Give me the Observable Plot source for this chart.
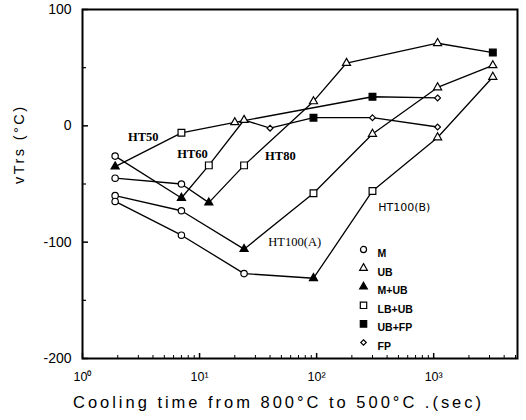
<!DOCTYPE html>
<html>
<head>
<meta charset="utf-8">
<script src="https://cdn.jsdelivr.net/npm/d3@7"></script>
<script src="https://cdn.jsdelivr.net/npm/@observablehq/plot@0.6"></script>
<style>
  html, body { margin: 0; padding: 0; background: #fff; }
</style>
</head>
<body>
<div id="chart"></div>
<script>
// ---- data ----
const structures = ["M", "UB", "M+UB", "LB+UB", "UB+FP", "FP"];

const ht50Time = [1.9, 7, 20, 300, 1080];
const ht50Vtrs = [-35, -6, 3, 25, 24];
const ht50Struct = ["M+UB", "LB+UB", "UB", "UB+FP", "FP"];

const ht60Time = [1.9, 7, 12, 24, 40, 94, 300, 1080];
const ht60Vtrs = [-26, -62, -34, 5, -2, 7, 7, -1];
const ht60Struct = ["M", "M+UB", "LB+UB", "UB", "FP", "UB+FP", "FP", "FP"];

const ht80Time = [1.9, 7, 12, 24, 94, 180, 1080, 3200];
const ht80Vtrs = [-45, -50, -66, -34, 21, 54, 71, 63];
const ht80Struct = ["M", "M", "M+UB", "LB+UB", "UB", "UB", "UB", "UB+FP"];

const ht100aTime = [1.9, 7, 24, 94, 300, 1080, 3200];
const ht100aVtrs = [-60, -73, -106, -58, -7, 33, 52];
const ht100aStruct = ["M", "M", "M+UB", "LB+UB", "UB", "UB", "UB"];

const ht100bTime = [1.9, 7, 24, 94, 300, 1080, 3200];
const ht100bVtrs = [-65, -94, -127, -131, -56, -10, 42];
const ht100bStruct = ["M", "M", "M", "M+UB", "LB+UB", "UB", "UB"];

const steelNames = ["HT50", "HT60", "HT80", "HT100(A)", "HT100(B)"];
const labelTime = [3.3, 8.7, 49, 65, 560];
const labelVtrs = [-10, -24, -26, -100, -70];

const yTicks = [-200, -100, 0, 100];
const yMinorTicks = [-150, -50, 50];
const xTicks = [1, 10, 100, 1000];
const xTickLabels = ["10\u2070", "10\u00b9", "10\u00b2", "10\u00b3"];
const xMinorTicks = [2, 3, 4, 5, 6, 7, 8, 9, 20, 30, 40, 50, 60, 70, 80, 90,
  200, 300, 400, 500, 600, 700, 800, 900, 2000, 3000, 4000, 5000];

const xTitle = "Cooling time from 800\u00b0C to 500\u00b0C .(sec)";
const yTitle = "vTrs (\u00b0C)";

// ---- build table ----
const series = [
  {name: steelNames[0], time: ht50Time, vtrs: ht50Vtrs, struct: ht50Struct},
  {name: steelNames[1], time: ht60Time, vtrs: ht60Vtrs, struct: ht60Struct},
  {name: steelNames[2], time: ht80Time, vtrs: ht80Vtrs, struct: ht80Struct},
  {name: steelNames[3], time: ht100aTime, vtrs: ht100aVtrs, struct: ht100aStruct},
  {name: steelNames[4], time: ht100bTime, vtrs: ht100bVtrs, struct: ht100bStruct}
];
const points = series.flatMap(s => s.time.map((t, i) => ({
  steel: s.name, time: t, vtrs: s.vtrs[i], structure: s.struct[i]
})));
const labels = steelNames.map((n, i) => ({name: n, time: labelTime[i], vtrs: labelVtrs[i]}));

// marker style per structure: [symbol, filled, r]
const markerStyle = {
  "M": ["circle", false, 3.2],
  "UB": ["triangle", false, 3.0],
  "M+UB": ["triangle", true, 3.0],
  "LB+UB": ["square", false, 3.8],
  "UB+FP": ["square", true, 3.8],
  "FP": ["diamond2", false, 2.6]
};

const dotMarks = structures.map(st => Plot.dot(points.filter(d => d.structure === st), {
  x: "time", y: "vtrs",
  symbol: markerStyle[st][0],
  r: markerStyle[st][2],
  fill: markerStyle[st][1] ? "black" : "white",
  stroke: "black", strokeWidth: 1.2
}));

const legendMarks = structures.flatMap((st, i) => [
  Plot.dot([st], {
    frameAnchor: "top-left", dx: 281, dy: 240 + i * 18.6,
    symbol: markerStyle[st][0], r: markerStyle[st][2] * 0.95,
    fill: markerStyle[st][1] ? "black" : "white",
    stroke: "black", strokeWidth: 1.2
  }),
  Plot.text([st], {
    frameAnchor: "top-left", dx: 295, dy: 240 + i * 18.6,
    text: d => d, textAnchor: "start",
    fontSize: 10.5, fontWeight: "bold",
    fontFamily: "Liberation Sans, Arial, sans-serif"
  })
]);

const chart = Plot.plot({
  width: 526,
  height: 420,
  marginLeft: 82,
  marginRight: 9,
  marginTop: 9,
  marginBottom: 62,
  x: {type: "log", domain: [1, 5200], label: null},
  y: {domain: [-200, 100], label: null},
  style: {
    fontFamily: "Liberation Sans, Arial, sans-serif",
    fontSize: "13px",
    background: "white",
    color: "black",
    overflow: "visible"
  },
  marks: [
    // axes
    Plot.axisY({ticks: yTicks, tickSize: 0, tickPadding: 11, tickFormat: d => String(d), fontSize: 14}),
    Plot.axisY({ticks: yTicks, tickSize: 6, dx: 6, fill: "none", strokeWidth: 1.5}),
    Plot.axisY({ticks: yMinorTicks, tickSize: 4, dx: 4, fill: "none", strokeWidth: 1.2}),
    Plot.axisX({ticks: xTicks, tickSize: 0, tickPadding: 14, fontSize: 12.5,
      tickFormat: d => xTickLabels[xTicks.indexOf(d)]}),
    Plot.axisX({ticks: xTicks, tickSize: 5, dy: -5, fill: "none", strokeWidth: 1.5}),
    Plot.axisX({ticks: xMinorTicks, tickSize: 3, dy: -3, fill: "none", strokeWidth: 1}),
    // data lines
    Plot.line(points, {x: "time", y: "vtrs", z: "steel", stroke: "black", strokeWidth: 1.3}),
    ...dotMarks,
    // curve labels
    Plot.text(labels.slice(0, 3), {x: "time", y: "vtrs", text: "name",
      fontFamily: "Liberation Serif, Times New Roman, serif", fontWeight: "bold", fontSize: 12.5}),
    Plot.text(labels.slice(3, 4), {x: "time", y: "vtrs", text: "name",
      fontFamily: "Liberation Serif, Times New Roman, serif", fontSize: 12.5}),
    Plot.text(labels.slice(4, 5), {x: "time", y: "vtrs", text: "name",
      fontFamily: "DejaVu Sans, sans-serif", fontSize: 11}),
    // legend
    ...legendMarks,
    // titles
    Plot.text([yTitle], {frameAnchor: "left", dx: -63, rotate: -90, text: d => d, fontSize: 14.5}),
    Plot.text([xTitle], {frameAnchor: "bottom", dx: -23, dy: 49, text: d => d, fontSize: 16.5}),
    // frame
    Plot.frame({stroke: "black", strokeWidth: 2})
  ]
});

// stretch the axis titles to the widths seen in the reference
d3.select(chart).selectAll("text").each(function() {
  const t = this.textContent;
  if (t === xTitle) {
    this.setAttribute("textLength", 408);
    this.setAttribute("lengthAdjust", "spacing");
  } else if (t === yTitle) {
    this.setAttribute("textLength", 77);
    this.setAttribute("lengthAdjust", "spacing");
  }
});

document.getElementById("chart").appendChild(chart);
</script>
</body>
</html>
